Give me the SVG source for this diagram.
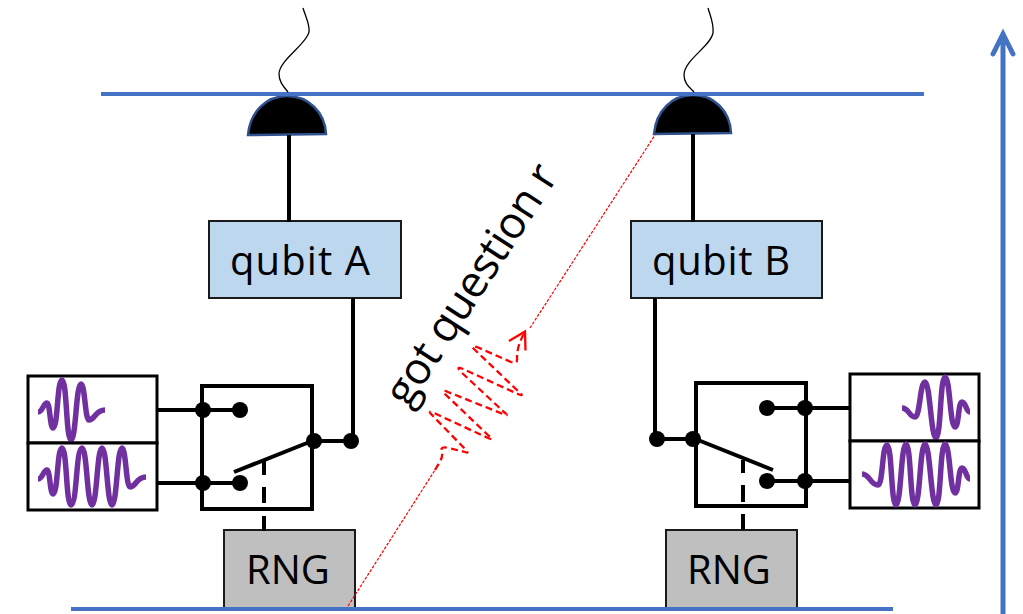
<svg xmlns="http://www.w3.org/2000/svg" width="1023" height="614" viewBox="0 0 1023 614">
<style>
text{font-family:"Open Sans","Noto Sans","Liberation Sans",sans-serif;fill:#000}
.lbl{font-size:40px;text-anchor:middle}
.box{fill:#bdd7ee;stroke:#1a1a1a;stroke-width:2}
.rng{fill:#bfbfbf;stroke:#1a1a1a;stroke-width:2}
.wbox{fill:#fff;stroke:#000;stroke-width:3}
.sw{fill:none;stroke:#000;stroke-width:4}
.w{fill:none;stroke:#000;stroke-width:4}
.rail{fill:none;stroke:#4472c4;stroke-width:4}
.wave{fill:none;stroke:#7030a0;stroke-width:5.5;stroke-linejoin:round}
.thin{fill:none;stroke:#000;stroke-width:1.3}
.dome{fill:#000;stroke:#2f528f;stroke-width:2.5}
.rl{fill:none;stroke:#f00;stroke-width:1.2;stroke-dasharray:3 1.5}
.rw{fill:none;stroke:#f00;stroke-width:2.3;stroke-dasharray:7 4}
.ra{fill:none;stroke:#f00;stroke-width:2.3}
</style>
<g id="detector-a"><path class="dome" d="M248 135C250 112 266 96 287 96C308 96 325 112 326 134Z"/></g>
<g id="detector-b"><path class="dome" d="M654 134C656 111 672 95 693 95C714 95 730 111 731 133Z"/></g>
<g id="qubit-a"><rect class="box" x="209" y="221" width="192" height="77"/><text class="lbl" x="300" y="275" textLength="140" lengthAdjust="spacing">qubit A</text></g>
<g id="qubit-b"><rect class="box" x="631" y="221" width="191" height="77"/><text class="lbl" x="721" y="275" textLength="138" lengthAdjust="spacing">qubit B</text></g>
<g id="switch-a"><rect class="sw" x="202" y="386" width="110" height="123"/>
<g fill="#000"><circle cx="203" cy="410" r="8"/><circle cx="240" cy="410" r="8"/><circle cx="203" cy="483" r="8"/><circle cx="240" cy="483" r="8"/><circle cx="314" cy="441" r="8"/><circle cx="351" cy="441" r="8"/></g></g>
<g id="switch-b"><rect class="sw" x="696" y="383" width="110" height="123"/>
<g fill="#000"><circle cx="657" cy="439" r="8"/><circle cx="693" cy="439" r="8"/><circle cx="767" cy="408" r="8"/><circle cx="805" cy="408" r="8"/><circle cx="767" cy="481" r="8"/><circle cx="805" cy="481" r="8"/></g></g>
<g id="wave-a1"><rect class="wbox" x="28" y="376" width="129" height="67"/>
<path class="wave" d="M38 412C43 412 43 403 47 403C50 403 50 428 53 428C58 428 57 380 62 380C67 380 66 440 71 440C76 440 76 384 81 384C85 384 85 420 89 420C95 420 95 410 105 410"/></g>
<g id="wave-a2"><rect class="wbox" x="28" y="443" width="129" height="67"/>
<path class="wave" d="M38 479C43 479 43 470 47 470C50 470 50 494 53 494C58 494 57 448 62 448C67 448 66 505 71 505C77 505 76 448 82 448C87 448 87 505 92 505C97 505 97 448 102 448C107 448 107 505 112 505C117 505 117 448 122 448C126 448 126 487 130 487C136 487 136 477 146 477"/></g>
<g id="wave-b1"><rect class="wbox" x="850" y="374" width="129" height="67"/>
<path class="wave" d="M902 408C909 408 909 417 915 417C920 417 920 382 925 382C930 382 931 438 936 438C941 438 940 377 945 377C950 377 950 427 955 427C959 427 958 402 962 402C966 402 966 412 970 412"/></g>
<g id="wave-b2"><rect class="wbox" x="850" y="441" width="129" height="67"/>
<path class="wave" d="M862 474C870 474 870 485 878 485C883 485 882 445 887 445C892 445 891 505 896 505C901 505 901 444 906 444C911 444 910 505 915 505C920 505 920 444 925 444C930 444 931 505 936 505C941 505 940 444 945 444C950 444 950 493 955 493C959 493 958 468 962 468C966 468 966 479 970 479"/></g>
<g id="rng-a"><rect class="rng" x="224" y="530" width="131" height="78"/><text class="lbl" x="288" y="584">RNG</text></g>
<g id="rng-b"><rect class="rng" x="666" y="530" width="131" height="78"/><text class="lbl" x="729" y="584">RNG</text></g>
<g id="connectors">
<path class="rail" d="M101 94H924"/>
<path class="rail" d="M71 609H893"/>
<path d="M1003 614V34M993 54L1003 34L1013 54" fill="none" stroke="#4472c4" stroke-width="5" stroke-linecap="round"/>
<path class="thin" d="M303 8C306 18 310 24 309 32C307 44 279 60 279 74C279 82 284 87 288 92"/>
<path class="thin" d="M708 8C711 18 714 24 713 33C711 46 684 60 684 75C684 83 689 87 694 92"/>
<path class="w" d="M289 135V222M693 134V222"/>
<path class="w" d="M353 298V441M655 298V440"/>
<path class="w" d="M157 410H240M157 483H240M312 441H351M234 472L312 441"/>
<path class="w" d="M805 408H850M805 481H850M767 408H805M767 481H805M657 439H693M693 438L773 470"/>
<path class="w" d="M264 460V475M264 487V503M264 516V531"/>
<path class="w" d="M743 460V473M743 485V502M743 514V530"/>
<path class="rl" d="M348 606L435 470"/>
<path class="rl" d="M530 328L655 135"/>
<path class="rw" d="M435 470C441 460 444 456 441 451Q441 446 449 448L465 452Q470 454 465 449L432 415Q427 410 434 413L488 438Q495 441 489 436L445 394Q441 389 448 392L503 414Q510 417 504 412L460 371Q456 366 463 369L518 394Q525 397 519 392L474 349Q470 345 477 347L511 362Q518 364 517 358Q517 345 525 332"/>
<path class="ra" d="M509 341L525 331.500L525.500 350.500"/>
</g>
<text id="label-question" x="408" y="409" font-size="44" transform="rotate(-57 408 409)" textLength="278" lengthAdjust="spacing">got question r</text>
</svg>
